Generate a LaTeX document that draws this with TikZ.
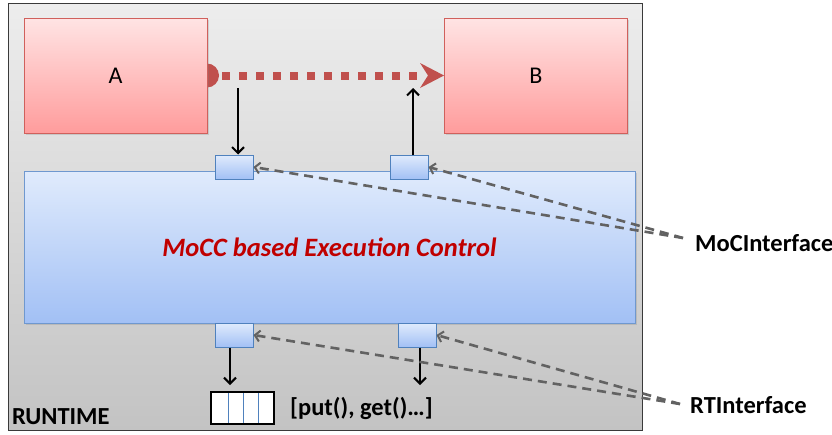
\documentclass[tikz,border=0pt]{standalone}
\usepackage{fontspec}
\setmainfont{Carlito}
\usetikzlibrary{arrows.meta,shadows}
\definecolor{rtTop}{HTML}{EDEDED}
\definecolor{rtBot}{HTML}{C3C3C3}
\definecolor{rtLine}{HTML}{3A3A3A}
\definecolor{pkTop}{HTML}{FFE4E4}
\definecolor{pkBot}{HTML}{FF9C9C}
\definecolor{pkLine}{HTML}{D0605C}
\definecolor{bxTop}{HTML}{E0EBFC}
\definecolor{bxBot}{HTML}{A2C0F5}
\definecolor{bxLine}{HTML}{6F98CF}
\definecolor{ptLine}{HTML}{4F81BD}
\definecolor{redArrow}{HTML}{C0504D}
\definecolor{dashGrey}{HTML}{626262}
\definecolor{mainRed}{HTML}{C00000}
\begin{document}
\begin{tikzpicture}[x=1pt,y=-1pt,
  runtimebox/.style={draw=rtLine, line width=1.2pt, top color=rtTop, bottom color=rtBot, inner sep=0pt, anchor=north west},
  pinkbox/.style={draw=pkLine, line width=1pt, top color=pkTop, bottom color=pkBot, inner sep=0pt,
     minimum width=183pt, minimum height=115pt, font=\fontsize{24}{28}\selectfont,
     drop shadow={opacity=0.25, shadow xshift=1.5pt, shadow yshift=-1.5pt}},
  bluebox/.style={draw=bxLine, line width=1pt, top color=bxTop, bottom color=bxBot, inner sep=0pt,
     drop shadow={opacity=0.25, shadow xshift=1.5pt, shadow yshift=-1.5pt}},
  portbox/.style={draw=ptLine, line width=1pt, top color=bxTop, bottom color=bxBot, inner sep=0pt,
     minimum width=38pt, minimum height=24pt},
  blkarrow/.style={draw=black, line width=2pt, -{Straight Barb[length=6pt,width=12pt,line width=2pt]}},
  greydash/.style={draw=dashGrey, line width=2.6pt, dash pattern=on 9pt off 6pt,
     -{Straight Barb[length=5pt,width=11pt,line width=2pt]}},
  lbl/.style={font=\bfseries\fontsize{24.5}{28}\selectfont, inner sep=0pt, anchor=west},
]
\useasboundingbox (0,0) rectangle (832,434);
\fill[white] (0,0) rectangle (832,434);

% runtime frame
\node[runtimebox, minimum width=634pt, minimum height=427pt] (rt) at (8,3) {};
\node[lbl, anchor=base west] (rtlbl) at (12,424) {RUNTIME};

% red dotted connection (drawn below A and B)
\coordinate (Aeast) at (207,75.5);
\fill[redArrow] (Aeast) ++(0,-12) arc[start angle=-90, end angle=90, radius=12] -- cycle;
\draw[redArrow, line width=8pt, dash pattern=on 8pt off 9pt] (222,75.5) -- (420,75.5);
\fill[redArrow] (444,75.5) -- (420,63) -- (428,75.5) -- (420,88) -- cycle;

% A and B
\node[pinkbox] (A) at (115.5,75.5) {A};
\node[pinkbox] (B) at (536,75.5) {B};

% main control box
\node[bluebox, minimum width=611pt, minimum height=152pt] (ctrl) at (329.5,247)
  {\textcolor{mainRed}{\bfseries\itshape\fontsize{26.5}{30}\selectfont MoCC based Execution Control}};

% ports
\node[portbox] (p1) at (234,167) {};
\node[portbox] (p2) at (409,167) {};
\node[portbox] (p3) at (234,335) {};
\node[portbox] (p4) at (417,335) {};

% black arrows
\coordinate (a1) at (238,88);
\coordinate (a2) at (413,88);
\coordinate (a3) at (230,385);
\coordinate (a4) at (420,385);
\draw[blkarrow] (a1) -- (a1 |- p1.north);
\draw[blkarrow] (a2 |- p2.north) -- (a2);
\draw[blkarrow] (a3 |- p3.south) -- (a3);
\draw[blkarrow] (a4 |- p4.south) -- (a4);

% buffer
\node[draw=black, fill=white, line width=1.8pt, minimum width=63pt, minimum height=32pt, inner sep=0pt] (buf) at (242.5,408) {};
\foreach \xx in {228,243,258} \draw[ptLine, line width=0.8pt] (\xx,393) -- (\xx,423);
\node[lbl] (ops) at (290,408) {[put(), get()…]};

% labels on the right
\node[lbl] (moc) at (695,243) {MoCInterface};
\node[lbl] (rti) at (690,405) {RTInterface};

\coordinate (mocend) at (683,238);
\coordinate (rtend) at (680,404);
\draw[greydash] (mocend) -- (p1.east);
\draw[greydash] (mocend) -- (p2.east);
\draw[greydash] (rtend) -- (p3.east);
\draw[greydash] (rtend) -- (p4.east);
\end{tikzpicture}
\end{document}
